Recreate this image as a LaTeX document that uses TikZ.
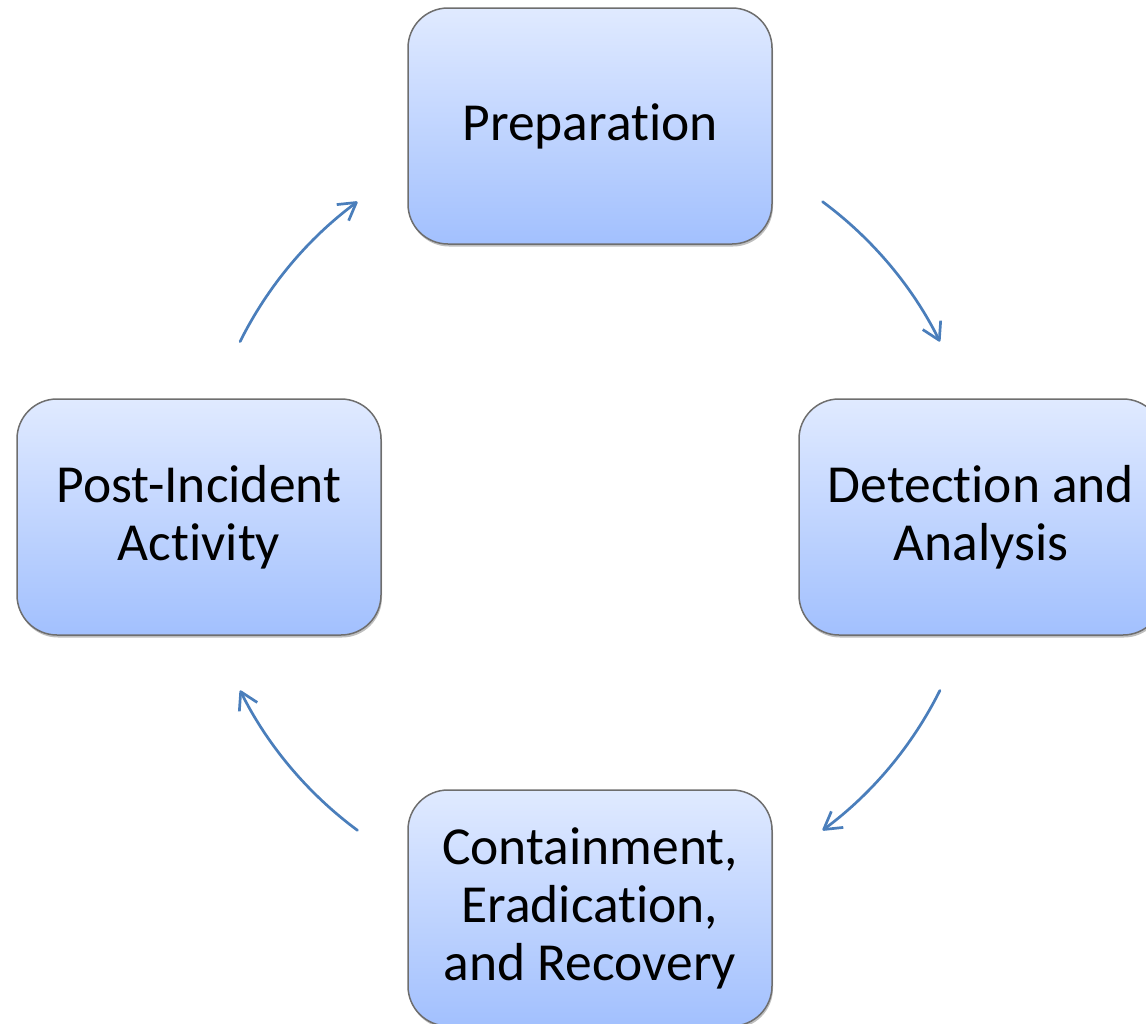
\documentclass[tikz,border=0pt]{standalone}
\usepackage{fontspec}
\setmainfont{Carlito}[RawFeature=-liga]
\usetikzlibrary{arrows.meta,shadows}
\definecolor{boxtop}{HTML}{E0EAFF}
\definecolor{boxbot}{HTML}{A2C0FE}
\definecolor{boxline}{HTML}{6E6E6E}
\definecolor{arrcol}{HTML}{4A7EBB}
\begin{document}
\begin{tikzpicture}[x=1pt,y=1pt,
  phase/.style={draw=boxline, line width=1.5pt, rounded corners=40pt,
    minimum width=364pt, minimum height=236pt, inner sep=0pt,
    top color=boxtop, bottom color=boxbot, align=center,
    font=\fontsize{53.5}{58}\selectfont,
    drop shadow={shadow xshift=1pt, shadow yshift=-2.5pt, opacity=0.25, fill=black}},
  cyc/.style={draw=arrcol, line width=2.7pt, line cap=round,
    -{Straight Barb[length=17pt,width=20pt,line join=round]}}]
\useasboundingbox (0,0) rectangle (1146,-1023);
\coordinate (c) at (590,-516);
\node[phase] (prep) at (590,-126) {Preparation};
\node[phase] (det) at (981,-517) {Detection and\\Analysis};
\node[phase] (post) at (199,-517) {Post-Incident\\Activity};
\node[phase] (cont) at (590,-908) {Containment,\\Eradication,\\and Recovery};
\coordinate (a1) at ([shift={(c)}]53.5:391);
\coordinate (a2) at ([shift={(c)}]-26.5:391);
\coordinate (a3) at ([shift={(c)}]233.5:391);
\coordinate (a4) at ([shift={(c)}]153.5:391);
\draw[cyc] (a1) arc[start angle=53.5, end angle=26.5, radius=391];
\draw[cyc] (a2) arc[start angle=-26.5, end angle=-53.5, radius=391];
\draw[cyc] (a3) arc[start angle=233.5, end angle=206.5, radius=391];
\draw[cyc] (a4) arc[start angle=153.5, end angle=126.5, radius=391];
\end{tikzpicture}
\end{document}
